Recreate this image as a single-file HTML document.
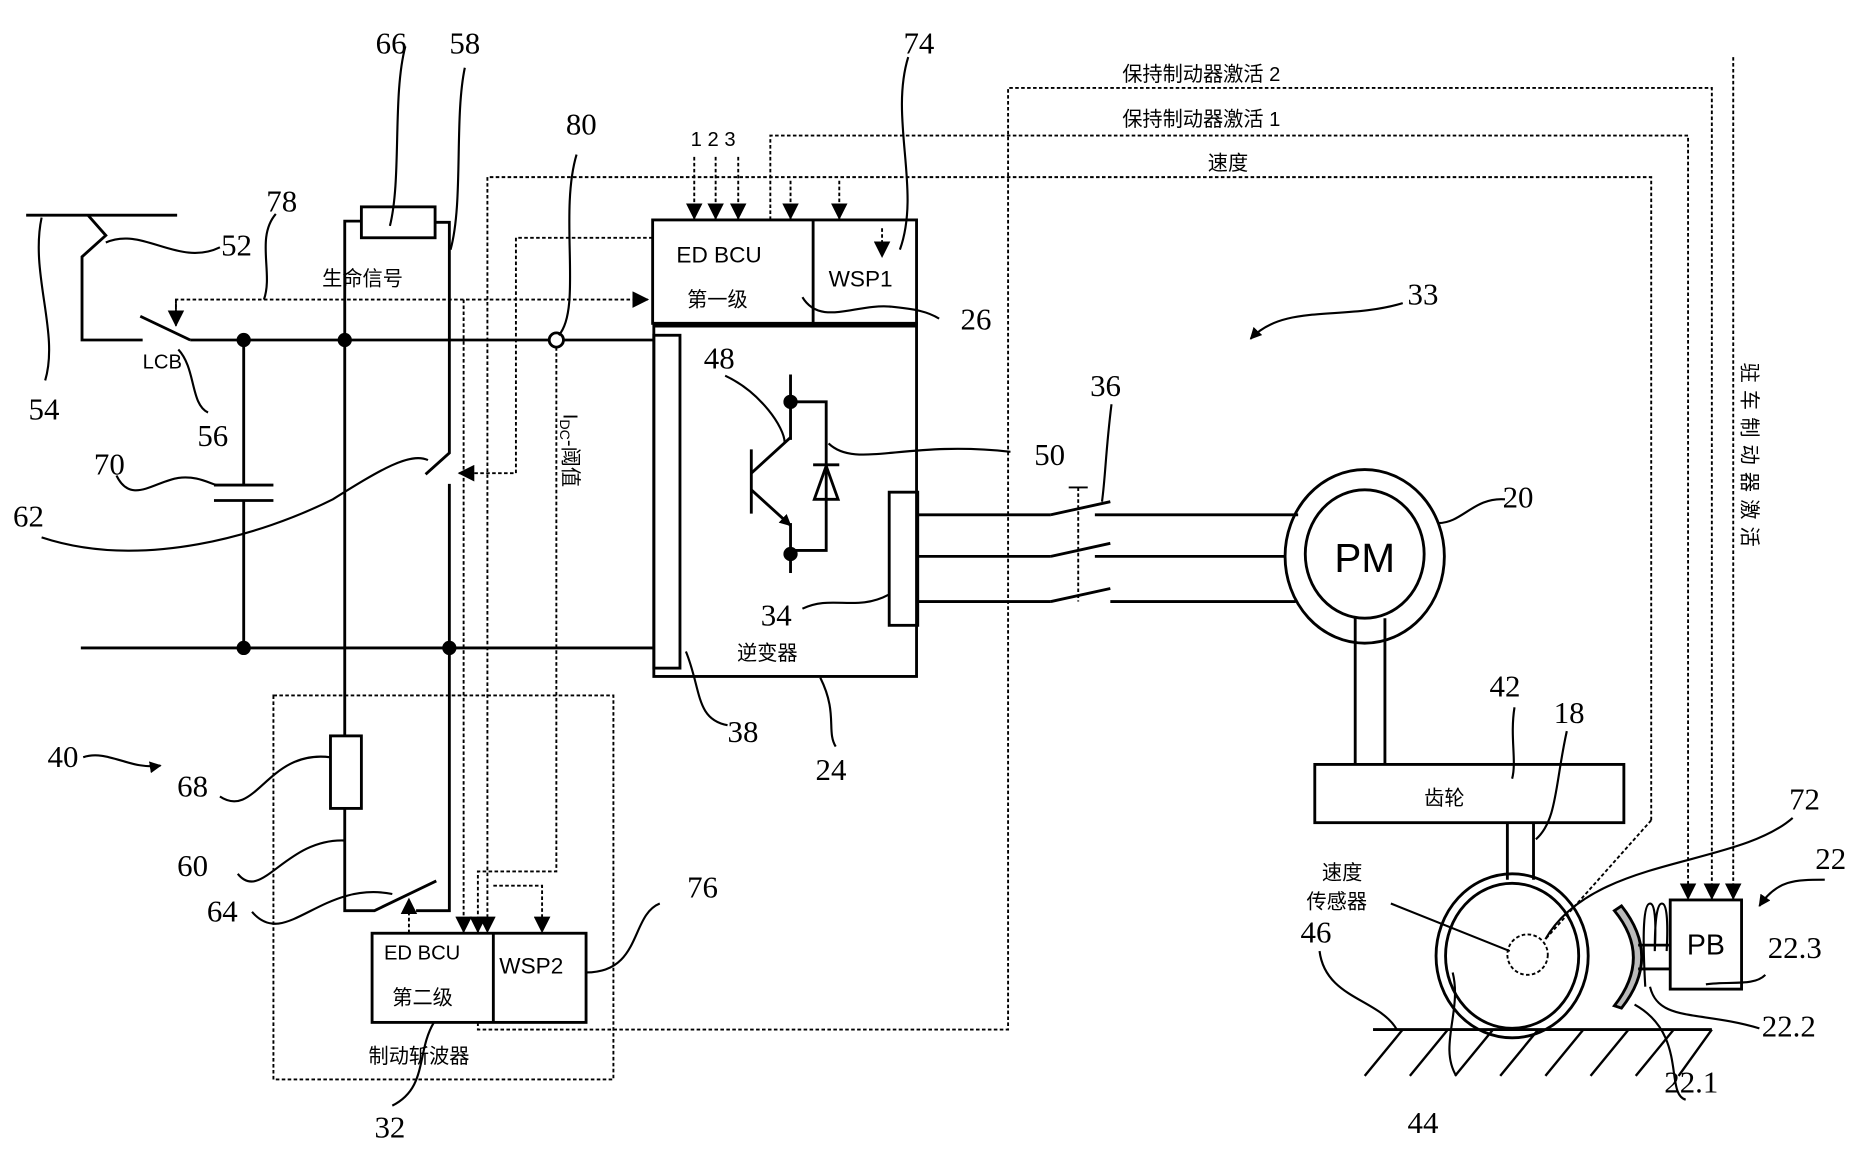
<!DOCTYPE html>
<html><head><meta charset="utf-8"><style>
html,body{margin:0;padding:0;background:#fff;}
svg{display:block;}
.n{font-family:"Liberation Serif","DejaVu Serif",serif;font-size:26px;fill:#000;}
.c{font-family:"Liberation Sans","Noto Sans CJK SC",sans-serif;font-size:17px;fill:#000;}
.s{font-family:"Liberation Sans","DejaVu Sans",sans-serif;fill:#000;}
</style></head><body>
<svg width="1864" height="1154" viewBox="0 0 1568 970.7" preserveAspectRatio="none" xmlns="http://www.w3.org/2000/svg">
<defs>
<marker id="a" markerWidth="10" markerHeight="10" refX="9" refY="5" orient="auto" markerUnits="userSpaceOnUse"><path d="M0,0 L10,5 L0,10 Z" fill="#000"/></marker>
<marker id="b" markerWidth="14" markerHeight="14" refX="13" refY="7" orient="auto" markerUnits="userSpaceOnUse"><path d="M0,0 L14,7 L0,14 Z" fill="#000"/></marker>
</defs>
<g fill="none" stroke="#000" stroke-width="2.4">
<line x1="22" y1="181" x2="149" y2="181"/>
<polyline points="74,181 89,198 69,216 69,286 120,286"/>
<line x1="118" y1="266" x2="160" y2="286"/>
<line x1="160" y1="286" x2="462" y2="286"/>
<line x1="474" y1="286" x2="550" y2="286"/>
<circle cx="468" cy="286" r="6"/>
<line x1="68" y1="545" x2="550" y2="545"/>
<line x1="205" y1="286" x2="205" y2="408"/>
<line x1="205" y1="421" x2="205" y2="545"/>
<line x1="180" y1="408" x2="230" y2="408"/>
<line x1="180" y1="421" x2="230" y2="421"/>
<rect x="304" y="174" width="62" height="26"/>
<polyline points="304,186 290,186 290,766 315,766 367,741"/>
<polyline points="366,187 378,187 378,381 358,399"/>
<polyline points="378,407 378,766 350,766"/>
<rect x="278" y="619" width="26" height="61" fill="#fff"/>
<rect x="549" y="185" width="222" height="87"/>
<line x1="684" y1="185" x2="684" y2="272"/>
<line x1="549" y1="274" x2="771" y2="274" stroke-width="3"/>
<rect x="550" y="272" width="221" height="297"/>
<rect x="550" y="282" width="22" height="280"/>
<rect x="748" y="414" width="24" height="112"/>
<line x1="665" y1="315" x2="665" y2="370"/>
<polyline points="665,338 695,338 695,463 665,463"/>
<line x1="632" y1="378" x2="632" y2="432"/>
<line x1="632" y1="398" x2="665" y2="368"/>
<line x1="632" y1="412" x2="665" y2="442" marker-end="url(#a)"/>
<line x1="665" y1="440" x2="665" y2="482"/>
<line x1="684" y1="391" x2="706" y2="391"/>
<path d="M695,392 L685,420 L705,420 Z"/>
<line x1="772" y1="433" x2="884" y2="433"/><line x1="884" y1="433" x2="934" y2="422"/><line x1="921" y1="433" x2="1092" y2="433"/>
<line x1="772" y1="468" x2="884" y2="468"/><line x1="884" y1="468" x2="934" y2="457"/><line x1="921" y1="468" x2="1082" y2="468"/>
<line x1="772" y1="506" x2="884" y2="506"/><line x1="884" y1="506" x2="934" y2="495"/><line x1="934" y1="506" x2="1090" y2="506"/>
<ellipse cx="1148" cy="468" rx="67" ry="73"/>
<ellipse cx="1148" cy="466" rx="50" ry="54"/>
<line x1="1140" y1="520" x2="1140" y2="643"/>
<line x1="1165" y1="520" x2="1165" y2="643"/>
<rect x="1106" y="643" width="260" height="49"/>
<line x1="1268" y1="692" x2="1268" y2="740"/>
<line x1="1290" y1="692" x2="1290" y2="740"/>
<ellipse cx="1272" cy="804" rx="64" ry="69"/>
<ellipse cx="1272" cy="804" rx="56" ry="61"/>
<line x1="1155" y1="866" x2="1440" y2="866"/>
<g stroke-width="2">
<line x1="1180" y1="866" x2="1148" y2="905"/><line x1="1218" y1="866" x2="1186" y2="905"/><line x1="1256" y1="866" x2="1224" y2="905"/><line x1="1294" y1="866" x2="1262" y2="905"/><line x1="1332" y1="866" x2="1300" y2="905"/><line x1="1370" y1="866" x2="1338" y2="905"/><line x1="1408" y1="866" x2="1376" y2="905"/><line x1="1440" y1="866" x2="1412" y2="905"/>
</g>
<path d="M1358,766 Q1390,805 1358,846 L1364,848 Q1398,805 1364,762 Z" fill="#bbb"/>
<line x1="1378" y1="795" x2="1406" y2="795"/><line x1="1378" y1="815" x2="1406" y2="815"/>
<path d="M1384,830 Q1380,760 1388,760 Q1394,760 1392,800 Q1392,760 1398,760 Q1404,760 1402,800" stroke-width="1.8"/>
<rect x="1405" y="757" width="60" height="75"/>
<rect x="313" y="785" width="180" height="75"/>
<line x1="415" y1="785" x2="415" y2="860"/>
</g>
<g fill="#000">
<circle cx="205" cy="286" r="6"/><circle cx="290" cy="286" r="6"/>
<circle cx="205" cy="545" r="6"/><circle cx="378" cy="545" r="6"/>
<circle cx="665" cy="338" r="6"/><circle cx="665" cy="466" r="6"/>
</g>
<g fill="none" stroke="#000" stroke-width="1.6" stroke-dasharray="3 2">
<polyline points="148,268 148,252 545,252" marker-end="url(#b)"/>
<line x1="148" y1="252" x2="148" y2="274" marker-end="url(#b)"/>
<polyline points="549,200 434,200 434,398 386,398" marker-end="url(#b)"/>
<polyline points="390,252 390,784" marker-end="url(#b)"/>
<polyline points="1389,690 1389,149 410,149 410,784" marker-end="url(#b)"/>
<line x1="1389" y1="690" x2="1300" y2="790"/>
<polyline points="468,292 468,733 402,733 402,784" marker-end="url(#b)"/>
<polyline points="415,745 456,745 456,784" marker-end="url(#b)"/>
<line x1="344" y1="785" x2="344" y2="756" marker-end="url(#b)"/>
<polyline points="648,185 648,114 1420,114 1420,756" marker-end="url(#b)"/>
<polyline points="402,860 402,866 848,866 848,74 1440,74 1440,756" marker-end="url(#b)"/>
<line x1="1458" y1="48" x2="1458" y2="756" marker-end="url(#b)"/>
<line x1="584" y1="132" x2="584" y2="184" marker-end="url(#b)"/>
<line x1="602" y1="132" x2="602" y2="184" marker-end="url(#b)"/>
<line x1="621" y1="132" x2="621" y2="184" marker-end="url(#b)"/>
<line x1="665" y1="152" x2="665" y2="184" marker-end="url(#b)"/>
<line x1="706" y1="152" x2="706" y2="184" marker-end="url(#b)"/>
<line x1="742" y1="192" x2="742" y2="216" marker-end="url(#b)"/>
<rect x="230" y="585" width="286" height="323"/>
<line x1="907" y1="410" x2="907" y2="506"/>
<line x1="899" y1="410" x2="915" y2="410" stroke-dasharray="none"/>
<circle cx="1285" cy="803" r="17"/>
</g>
<g fill="none" stroke="#000" stroke-width="1.8">
<path d="M35,183 C25,230 50,280 38,320"/>
<path d="M89,204 C120,190 150,225 185,208"/>
<path d="M232,180 C215,200 230,230 222,252"/>
<path d="M150,294 C165,310 160,340 175,347"/>
<path d="M98,400 C110,425 130,405 150,402 C165,400 175,406 182,408"/>
<path d="M35,452 C120,480 220,450 280,420 C320,395 345,380 360,387"/>
<path d="M341,39 C330,80 338,150 328,190"/>
<path d="M391,57 C382,100 390,170 379,210"/>
<path d="M485,130 C470,180 490,260 470,282"/>
<path d="M764,48 C748,100 775,160 757,210"/>
<path d="M675,250 C690,275 720,255 750,258 C770,260 780,262 790,268"/>
<path d="M610,316 C640,330 660,360 660,372"/>
<path d="M697,373 C720,395 760,370 850,380"/>
<path d="M675,512 C700,500 720,515 748,500"/>
<path d="M577,548 C590,580 585,605 612,610"/>
<path d="M690,570 C705,600 695,615 703,628"/>
<path d="M935,340 C930,380 930,400 927,422"/>
<path d="M1210,440 C1230,440 1240,418 1266,420"/>
<path d="M1274,595 C1270,620 1276,640 1272,655"/>
<path d="M1318,615 C1308,660 1310,690 1292,706"/>
<path d="M1508,688 C1460,730 1340,720 1300,790"/>
<path d="M1170,760 L1270,800"/>
<path d="M1110,800 C1115,840 1160,840 1175,866"/>
<path d="M1225,905 C1210,880 1230,850 1222,818"/>
<path d="M1375,845 C1420,870 1400,920 1418,925"/>
<path d="M1388,830 C1395,860 1430,850 1480,865"/>
<path d="M1435,828 C1455,825 1475,830 1485,820"/>
<path d="M1180,255 C1130,270 1080,255 1052,285" marker-end="url(#a)"/>
<path d="M1535,740 C1510,740 1495,740 1480,762" marker-end="url(#a)"/>
<path d="M70,637 C90,630 110,648 135,644" marker-end="url(#a)"/>
<path d="M185,670 C215,690 225,630 278,637"/>
<path d="M200,735 C220,760 240,705 290,707"/>
<path d="M212,767 C240,800 270,740 330,752"/>
<path d="M493,818 C540,818 530,770 555,760"/>
<path d="M365,860 C350,885 360,915 330,930"/>
</g>
<g class="n">
<text x="24" y="353">54</text><text x="186" y="215">52</text><text x="224" y="178">78</text>
<text x="166" y="375">56</text><text x="79" y="399">70</text><text x="11" y="443">62</text>
<text x="316" y="45">66</text><text x="378" y="45">58</text><text x="476" y="113">80</text>
<text x="760" y="45">74</text><text x="808" y="277">26</text><text x="592" y="310">48</text>
<text x="870" y="391">50</text><text x="640" y="526">34</text><text x="612" y="624">38</text>
<text x="686" y="656">24</text><text x="917" y="333">36</text><text x="1264" y="427">20</text>
<text x="1184" y="256">33</text><text x="1253" y="586">42</text><text x="1307" y="608">18</text>
<text x="1505" y="681">72</text><text x="1527" y="731">22</text><text x="1487" y="806">22.3</text>
<text x="1482" y="872">22.2</text><text x="1400" y="919">22.1</text><text x="1184" y="953">44</text>
<text x="1094" y="793">46</text><text x="40" y="645">40</text><text x="149" y="670">68</text>
<text x="149" y="737">60</text><text x="174" y="775">64</text><text x="578" y="755">76</text>
<text x="315" y="957">32</text>
</g>
<g class="s">
<text x="120" y="310" font-size="17">LCB</text>
<text x="581" y="123" font-size="17">1 2 3</text>
<text x="569" y="221" font-size="19">ED BCU</text>
<text x="697" y="241" font-size="19">WSP1</text>
<text x="323" y="807" font-size="17">ED BCU</text>
<text x="420" y="819" font-size="19">WSP2</text>
<text x="1148" y="481" font-size="34" text-anchor="middle">PM</text>
<text x="1435" y="803" font-size="24" text-anchor="middle">PB</text>
</g>
<g class="c">
<text x="271" y="240">生命信号</text>
<text x="578" y="258">第一级</text>
<text x="330" y="845">第二级</text>
<text x="310" y="894">制动斩波器</text>
<text x="620" y="555">逆变器</text>
<text x="1198" y="677">齿轮</text>
<text x="1112" y="740">速度</text>
<text x="1099" y="764">传感器</text>
<text x="1016" y="143">速度</text>
<text x="944" y="68">保持制动器激活 2</text>
<text x="944" y="106">保持制动器激活 1</text>
<text transform="translate(474,348) rotate(90)">I<tspan font-size="12" dy="3">DC</tspan><tspan dy="-3">-阈值</tspan></text>
<text transform="translate(1466,305) rotate(90)" letter-spacing="6">驻车制动器激活</text>
</g>
</svg>
</body></html>
